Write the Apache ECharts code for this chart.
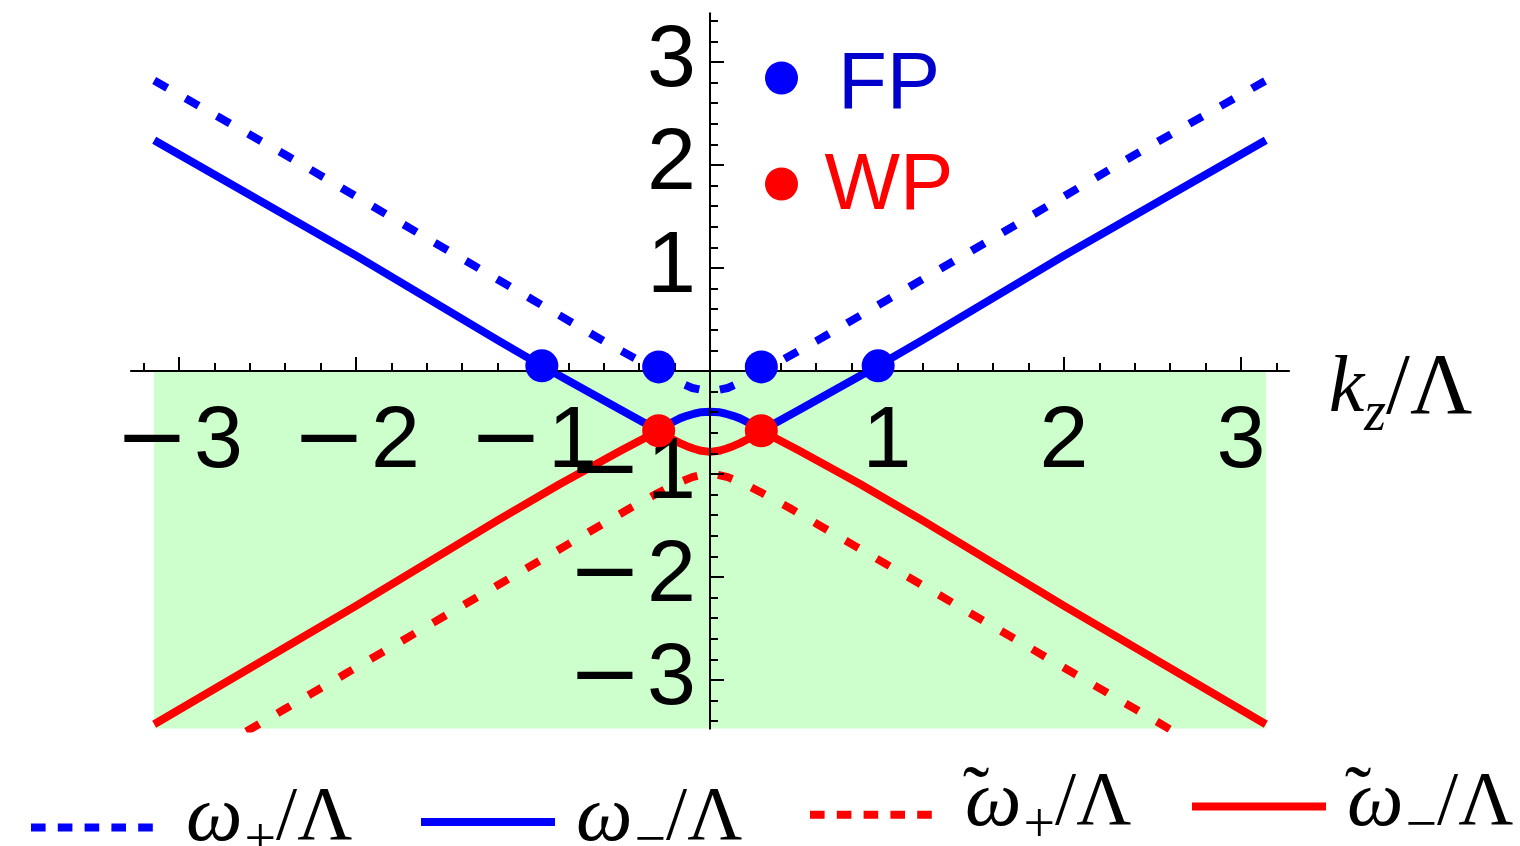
<!DOCTYPE html>
<html>
<head>
<meta charset="utf-8">
<script src="https://cdn.jsdelivr.net/npm/echarts@6/dist/echarts.min.js"></script>
<style>
  html, body { margin: 0; padding: 0; background: #fff; }
  #chart { width: 1520px; height: 846px; }
</style>
</head>
<body>
<div id="chart"></div>
<script>
// Dispersion branches as [k_z/Λ, ω/Λ] pairs
const omegaPlus = [
  [-3.14, 2.82], [-2.4, 2.10], [-1.6, 1.29], [-1.0, 0.69], [-0.6, 0.29], [-0.4, 0.10],
  [-0.29, 0.0], [-0.2, -0.09], [-0.1, -0.165], [0, -0.20], [0.1, -0.165], [0.2, -0.09],
  [0.29, 0.0], [0.4, 0.10], [0.6, 0.29], [1.0, 0.69], [1.6, 1.29], [2.4, 2.10], [3.14, 2.82]
];
const omegaMinus = [
  [-3.14, 2.24], [-2.0, 1.12], [-1.2, 0.30], [-0.95, 0.05], [-0.5, -0.38], [-0.29, -0.58],
  [-0.25, -0.535], [-0.21, -0.495], [-0.17, -0.46], [-0.13, -0.435], [-0.09, -0.415], [-0.05, -0.40],
  [0, -0.395],
  [0.05, -0.40], [0.09, -0.415], [0.13, -0.435], [0.17, -0.46], [0.21, -0.495], [0.25, -0.535],
  [0.29, -0.58], [0.5, -0.38], [0.95, 0.05], [1.2, 0.30], [2.0, 1.12], [3.14, 2.24]
];
const omegaTildePlus = [
  [-2.62, -3.50], [-2.4, -3.28], [-2.05, -2.93], [-1.6, -2.48], [-1.2, -2.08], [-0.82, -1.70],
  [-0.6, -1.48], [-0.45, -1.33], [-0.3, -1.19], [-0.2, -1.10], [-0.1, -1.03], [0, -0.99],
  [0.1, -1.03], [0.2, -1.10], [0.3, -1.19], [0.45, -1.33], [0.6, -1.48], [0.82, -1.70],
  [1.2, -2.08], [1.6, -2.48], [2.05, -2.93], [2.4, -3.28], [2.62, -3.50]
];
const omegaTildeMinus = [
  [-3.14, -3.43], [-2.0, -2.28], [-1.2, -1.45], [-0.85, -1.10], [-0.5, -0.77], [-0.29, -0.58],
  [-0.25, -0.625], [-0.21, -0.665], [-0.17, -0.70], [-0.13, -0.73], [-0.09, -0.755], [-0.05, -0.775],
  [0, -0.785],
  [0.05, -0.775], [0.09, -0.755], [0.13, -0.73], [0.17, -0.70], [0.21, -0.665], [0.25, -0.625],
  [0.29, -0.58], [0.5, -0.77], [0.85, -1.10], [1.2, -1.45], [2.0, -2.28], [3.14, -3.43]
];
const fpPoints = [[-0.95, 0.05], [-0.29, 0.04], [0.29, 0.04], [0.95, 0.05]];
const wpPoints = [[-0.29, -0.58], [0.29, -0.58]];

// Shaded band below ω = 0
const shadedK = [-3.1416, 3.1416];
const shadedOmega = [0, -3.47];

// Axis extents and tick labels
const kRange = [-3.27, 3.27];
const omegaRange = [-3.47, 3.47];
const kTicks = [-3, -2, -1, 1, 2, 3];
const omegaTicks = [-3, -2, -1, 1, 2, 3];

const minorK = [];
for (let i = -16; i <= 16; i++) if (i !== 0) minorK.push(Math.round(i * 2) / 10);
const minorOmega = [];
for (let i = -17; i <= 17; i++) if (i !== 0) minorOmega.push(Math.round(i * 2) / 10);

const seriesNames = ['ω₊/Λ', 'ω₋/Λ', 'ω̃₊/Λ', 'ω̃₋/Λ'];
const legendRichText = {
  'ω₊/Λ': '{w|ω}{sub|+}{s|/Λ}',
  'ω₋/Λ': '{w|ω}{sub|−}{s|/Λ}',
  'ω̃₊/Λ': '{w|ω}{sub|+}{s|/Λ}',
  'ω̃₋/Λ': '{w|ω}{sub|−}{s|/Λ}'
};

const BLUE = '#0000ff';
const RED = '#ff0000';
const plotDash = [15, 21];
const legendDash = [14.6, 12.2];

// Layout of the plotting rectangle; the axes cross at the origin
const W = 1520, H = 846;
const GRID = { left: 131.2, right: 231.2, top: 13.6, bottom: 117.6 };
const plotW = W - GRID.left - GRID.right;
const plotH = H - GRID.top - GRID.bottom;
const zeroY = GRID.top + plotH * omegaRange[1] / (omegaRange[1] - omegaRange[0]);
const zeroX = GRID.left + plotW * (0 - kRange[0]) / (kRange[1] - kRange[0]);
const xAxisOffset = -((H - GRID.bottom) - zeroY);
const yAxisOffset = -(zeroX - GRID.left);

const numRich = {
  m: { fontFamily: 'DejaVu Sans', fontSize: 88, color: '#000', padding: [0, 5, 0, 0] },
  d: { fontFamily: 'Liberation Sans', fontSize: 88, color: '#000' }
};
function tickText(v) {
  return v < 0 ? '{m|−}{d|' + (-v) + '}' : '{d|' + v + '}';
}

const legendRich = {
  w: { fontFamily: 'Liberation Serif', fontStyle: 'italic', fontSize: 80, lineHeight: 80, color: '#000' },
  sub: { fontFamily: 'Liberation Serif', fontSize: 56, lineHeight: 40, color: '#000', padding: [46, 0, 0, 2] },
  s: { fontFamily: 'Liberation Serif', fontSize: 76, lineHeight: 80, color: '#000' }
};

function lineLegend(name, left, top, dash, padBottom) {
  return {
    data: [{ name: name, lineStyle: { width: 8, type: dash, cap: 'butt' }, itemStyle: { opacity: 0 } }],
    left: left, top: top, itemWidth: 134, itemHeight: 14, selectedMode: false,
    formatter: function (n) { return legendRichText[n]; },
    textStyle: { padding: [0, 0, padBottom, 16], rich: legendRich }
  };
}

// Tilde accents over the ω of the two tilde branches in the legend
const tildeMarks = [
  { x: 976, y: 800 },
  { x: 1358, y: 800 }
];

const axisLineStyle = { color: '#000', width: 2 };

const option = {
  animation: false,
  backgroundColor: '#fff',
  grid: { left: GRID.left, right: GRID.right, top: GRID.top, bottom: GRID.bottom, containLabel: false, outerBoundsMode: 'none' },
  xAxis: [
    {
      type: 'value', min: kRange[0], max: kRange[1], z: 3, position: 'bottom', offset: xAxisOffset,
      axisLine: { onZero: false, lineStyle: axisLineStyle },
      axisTick: { inside: true, length: 14, customValues: kTicks, lineStyle: axisLineStyle },
      axisLabel: { customValues: kTicks, formatter: tickText, rich: numRich, margin: 28 },
      splitLine: { show: false },
      name: '{k|k}{z|z}{s|/Λ}', nameLocation: 'end', nameGap: 40,
      nameTextStyle: {
        padding: [38, 0, 0, 0],
        rich: {
          k: { fontFamily: 'Liberation Serif', fontStyle: 'italic', fontSize: 80, color: '#000' },
          z: { fontFamily: 'Liberation Serif', fontStyle: 'italic', fontSize: 56, color: '#000', padding: [50, 0, 0, 0] },
          s: { fontFamily: 'Liberation Serif', fontSize: 86, color: '#000' }
        }
      }
    },
    {
      type: 'value', min: kRange[0], max: kRange[1], z: 3, position: 'bottom', offset: xAxisOffset,
      axisLine: { onZero: false, lineStyle: axisLineStyle },
      axisTick: { inside: true, length: 8, customValues: minorK, lineStyle: axisLineStyle },
      axisLabel: { show: false },
      splitLine: { show: false }
    }
  ],
  yAxis: [
    {
      type: 'value', min: omegaRange[0], max: omegaRange[1], z: 3, position: 'left', offset: yAxisOffset,
      axisLine: { onZero: false, lineStyle: axisLineStyle },
      axisTick: { inside: true, length: 14, customValues: omegaTicks, lineStyle: axisLineStyle },
      axisLabel: { customValues: omegaTicks, formatter: tickText, rich: numRich, margin: 14 },
      splitLine: { show: false }
    },
    {
      type: 'value', min: omegaRange[0], max: omegaRange[1], z: 3, position: 'left', offset: yAxisOffset,
      axisLine: { onZero: false, lineStyle: axisLineStyle },
      axisTick: { inside: true, length: 8, customValues: minorOmega, lineStyle: axisLineStyle },
      axisLabel: { show: false },
      splitLine: { show: false }
    }
  ],
  legend: [
    lineLegend(seriesNames[0], 22, 763, legendDash, 17),
    lineLegend(seriesNames[1], 412, 763, 'solid', 6),
    lineLegend(seriesNames[2], 801, 748, legendDash, 21.4),
    lineLegend(seriesNames[3], 1183, 748, 'solid', 5),
    {
      data: ['FP', 'WP'], orient: 'vertical', left: 760, top: 25,
      itemWidth: 33, itemHeight: 33, itemGap: 15, icon: 'circle', selectedMode: false,
      formatter: function (n) { return '{' + n + '|' + n + '}'; },
      textStyle: {
        rich: {
          FP: { fontFamily: 'Liberation Sans', fontSize: 80, lineHeight: 80, color: '#0000cc', width: 172, align: 'center', padding: [16, 0, 0, 0] },
          WP: { fontFamily: 'Liberation Sans', fontSize: 80, lineHeight: 80, color: '#ff0000', width: 172, align: 'center', padding: [6, 0, 0, 0] }
        }
      }
    }
  ],
  graphic: tildeMarks.map(function (p) {
    return {
      type: 'text', x: p.x, y: p.y, silent: true,
      style: { text: '˜', font: '80px "Liberation Serif"', fill: '#000', align: 'center', verticalAlign: 'middle' }
    };
  }),
  series: [
    {
      type: 'line', data: [], z: 1, silent: true,
      markArea: {
        silent: true, itemStyle: { color: '#ccffcc' },
        data: [[{ xAxis: shadedK[0], yAxis: shadedOmega[0] }, { xAxis: shadedK[1], yAxis: shadedOmega[1] }]]
      }
    },
    { name: seriesNames[0], type: 'line', data: omegaPlus, symbol: 'none', z: 2,
      lineStyle: { color: BLUE, width: 8, type: plotDash, cap: 'butt' }, itemStyle: { color: BLUE } },
    { name: seriesNames[1], type: 'line', data: omegaMinus, symbol: 'none', z: 2,
      lineStyle: { color: BLUE, width: 8, type: 'solid', join: 'round' }, itemStyle: { color: BLUE } },
    { name: seriesNames[2], type: 'line', data: omegaTildePlus, symbol: 'none', z: 2,
      lineStyle: { color: RED, width: 8, type: plotDash, cap: 'butt' }, itemStyle: { color: RED } },
    { name: seriesNames[3], type: 'line', data: omegaTildeMinus, symbol: 'none', z: 2,
      lineStyle: { color: RED, width: 8, type: 'solid', join: 'round' }, itemStyle: { color: RED } },
    { name: 'FP', type: 'scatter', data: fpPoints, symbolSize: 33, z: 5, itemStyle: { color: BLUE, opacity: 1 } },
    { name: 'WP', type: 'scatter', data: wpPoints, symbolSize: 33, z: 5, itemStyle: { color: RED, opacity: 1 } }
  ]
};

const chart = echarts.init(document.getElementById('chart'), null, { renderer: 'canvas' });
chart.setOption(option);
</script>
</body>
</html>
